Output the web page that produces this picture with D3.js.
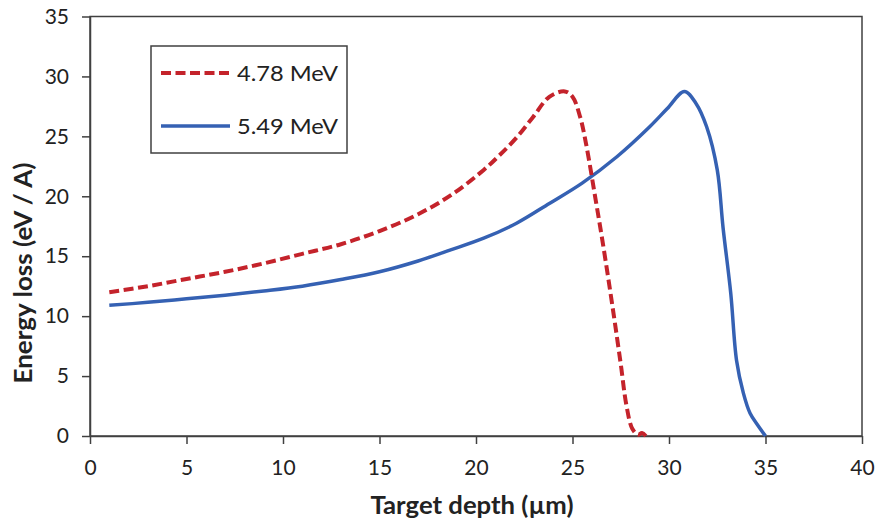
<!DOCTYPE html>
<html>
<head>
<meta charset="utf-8">
<script src="https://cdn.jsdelivr.net/npm/d3@7"></script>
<style>
  html, body { margin: 0; padding: 0; background: #fff; }
  svg { display: block; }
  text { font-family: Lato, "Open Sans", sans-serif; fill: #222; }
</style>
</head>
<body>
<svg id="chart" width="877" height="519"></svg>
<script>
const seriesNames = ["4.78 MeV", "5.49 MeV"];

const redX = [1, 3, 5, 7, 9, 11, 13, 15, 17, 18.8, 20.4, 21.2, 22.1, 22.95, 23.8, 24.6, 25.0, 25.4, 25.7, 26.2, 26.6, 27.1, 27.5, 27.8, 28.1, 28.4, 28.6, 28.8];
const redY = [12.0, 12.5, 13.1, 13.7, 14.4, 15.2, 16.0, 17.1, 18.5, 20.2, 22.2, 23.4, 24.9, 26.6, 28.3, 28.75, 28.3, 26.6, 24.4, 19.7, 15.8, 10.5, 6.0, 2.5, 0.6, 0.1, 0.25, 0];

const blueX = [1, 3, 5, 7, 9, 11, 13, 15, 17, 18.65, 20.4, 22.1, 23.8, 25.5, 27.3, 29.0, 29.9, 30.8, 31.4, 31.95, 32.5, 32.8, 33.2, 33.5, 33.85, 34.2, 34.6, 35.0];
const blueY = [10.9, 11.15, 11.45, 11.75, 12.1, 12.5, 13.05, 13.7, 14.6, 15.5, 16.5, 17.75, 19.4, 21.1, 23.3, 25.8, 27.3, 28.75, 27.75, 25.8, 22.2, 17.4, 11.9, 6.3, 3.6, 1.9, 0.9, 0];

const xTicks = [0, 5, 10, 15, 20, 25, 30, 35, 40];
const yTicks = [0, 5, 10, 15, 20, 25, 30, 35];

const xTitle = "Target depth (µm)";
const yTitle = "Energy loss (eV / A)";

const svg = d3.select("#chart");
const mLeft = 90, mRight = 862, mTop = 16.5, mBottom = 436;

const x = d3.scaleLinear().domain([0, 40]).range([mLeft, mRight]);
const y = d3.scaleLinear().domain([0, 35]).range([mBottom, mTop]);

const axisColor = "#404040";

svg.append("rect")
  .attr("x", mLeft).attr("y", mTop)
  .attr("width", mRight - mLeft).attr("height", mBottom - mTop)
  .attr("fill", "none").attr("stroke", axisColor).attr("stroke-width", 1.5);

const xAxis = svg.append("g").attr("transform", `translate(0,${mBottom})`)
  .call(d3.axisBottom(x).tickValues(xTicks).tickSize(8).tickSizeOuter(0).tickPadding(16));
const yAxis = svg.append("g").attr("transform", `translate(${mLeft},0)`)
  .call(d3.axisLeft(y).tickValues(yTicks).tickSize(8).tickSizeOuter(0).tickPadding(13));

[xAxis, yAxis].forEach(g => {
  g.select(".domain").attr("stroke", axisColor).attr("stroke-width", 1.5);
  g.selectAll(".tick line").attr("stroke", axisColor).attr("stroke-width", 1.5);
  g.selectAll(".tick text").style("font-family", "Lato, 'Open Sans', sans-serif")
    .style("font-size", "21px").attr("fill", "#262626");
});

svg.append("text")
  .attr("x", 472).attr("y", 514)
  .attr("text-anchor", "middle")
  .attr("textLength", 203).attr("lengthAdjust", "spacingAndGlyphs")
  .style("font-size", "24px").style("font-weight", "bold")
  .text(xTitle);

svg.append("text")
  .attr("transform", "translate(32,273) rotate(-90)")
  .attr("text-anchor", "middle")
  .attr("textLength", 221).attr("lengthAdjust", "spacingAndGlyphs")
  .style("font-size", "24px").style("font-weight", "bold")
  .text(yTitle);

const line = d3.line()
  .x(d => x(d[0])).y(d => y(d[1]))
  .curve(d3.curveCatmullRom.alpha(0.5));

const redColor = "#c4232b";
const blueColor = "#3561b3";

svg.append("path")
  .datum(d3.zip(blueX, blueY))
  .attr("d", line)
  .attr("fill", "none").attr("stroke", blueColor)
  .attr("stroke-width", 3.5).attr("stroke-linejoin", "round");

svg.append("path")
  .datum(d3.zip(redX, redY))
  .attr("d", line)
  .attr("fill", "none").attr("stroke", redColor)
  .attr("stroke-width", 4).attr("stroke-dasharray", "10,4.5");

const lg = svg.append("g");
lg.append("rect")
  .attr("x", 151).attr("y", 46).attr("width", 196).attr("height", 107)
  .attr("fill", "#fff").attr("stroke", axisColor).attr("stroke-width", 1.5);

const legendItems = [
  { name: seriesNames[0], color: redColor, dash: "10,4.5", yy: 73, w: 4 },
  { name: seriesNames[1], color: blueColor, dash: null, yy: 126, w: 3.5 }
];
legendItems.forEach(it => {
  lg.append("line")
    .attr("x1", 161).attr("x2", 230).attr("y1", it.yy).attr("y2", it.yy)
    .attr("stroke", it.color).attr("stroke-width", it.w)
    .attr("stroke-dasharray", it.dash);
  lg.append("text")
    .attr("x", 237).attr("y", it.yy + 7.5)
    .attr("textLength", 101).attr("lengthAdjust", "spacingAndGlyphs")
    .style("font-size", "21px")
    .text(it.name);
});
</script>
</body>
</html>
